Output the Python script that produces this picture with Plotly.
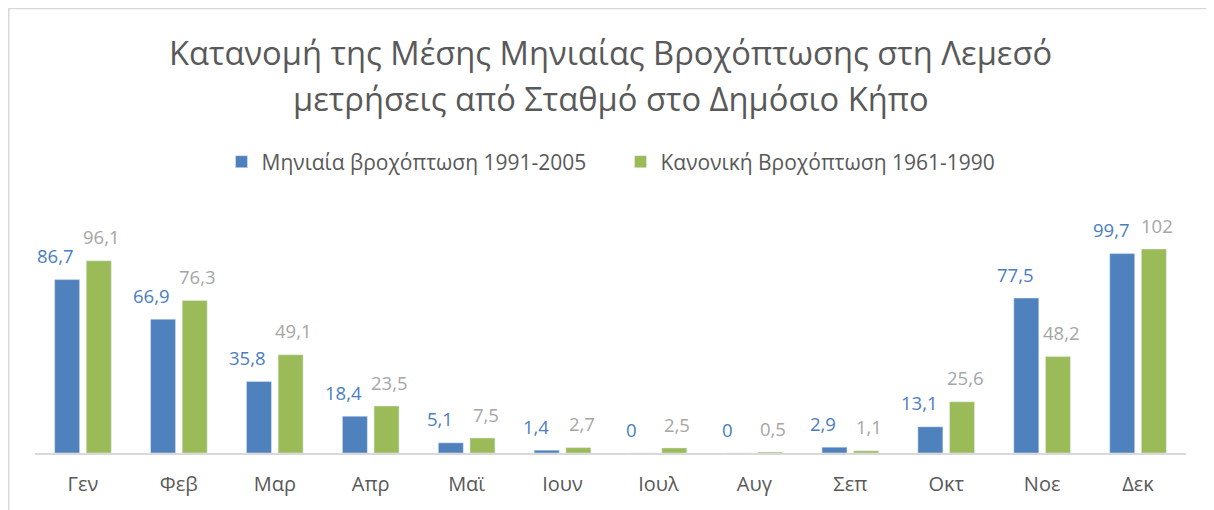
import plotly.graph_objects as go

months = ["Γεν", "Φεβ", "Μαρ", "Απρ", "Μαϊ", "Ιουν", "Ιουλ", "Αυγ", "Σεπ", "Οκτ", "Νοε", "Δεκ"]
rain_1991_2005 = [86.7, 66.9, 35.8, 18.4, 5.1, 1.4, 0, 0, 2.9, 13.1, 77.5, 99.7]
rain_1961_1990 = [96.1, 76.3, 49.1, 23.5, 7.5, 2.7, 2.5, 0.5, 1.1, 25.6, 48.2, 102]
series_names = ["Μηνιαία βροχόπτωση 1991-2005", "Κανονική Βροχόπτωση 1961-1990"]
title_lines = ["Κατανομή της Μέσης Μηνιαίας Βροχόπτωσης στη Λεμεσό",
               "μετρήσεις από Σταθμό στο Δημόσιο Κήπο"]

FONT = "'Open Sans', sans-serif"
BLUE = "#4F81BD"
GREEN = "#9BBB59"
BLUE_LBL = "#4A7EC1"
GRAY_LBL = "#A6A6A6"
TXT = "#595959"


def fmt(v):
    return f"{v:g}".replace(".", ",")


fig = go.Figure()
fig.add_trace(go.Bar(x=months, y=rain_1991_2005, name=series_names[0], marker_color=BLUE))
fig.add_trace(go.Bar(x=months, y=rain_1961_1990, name=series_names[1], marker_color=GREEN))

annotations = []
for m, v in zip(months, rain_1991_2005):
    annotations.append(dict(x=m, y=v, xref="x", yref="y", text=fmt(v), showarrow=False,
                            xshift=-27, yshift=24, yanchor="middle",
                            font=dict(family=FONT, size=18.5, color=BLUE_LBL)))
for m, v in zip(months, rain_1961_1990):
    annotations.append(dict(x=m, y=v, xref="x", yref="y", text=fmt(v), showarrow=False,
                            xshift=19, yshift=24, yanchor="middle",
                            font=dict(family=FONT, size=18.5, color=GRAY_LBL)))
annotations.append(dict(x=0.5, y=1.67, xref="paper", yref="paper", text=title_lines[0],
                        showarrow=False, yanchor="middle", xanchor="center",
                        font=dict(family=FONT, size=32.7, color=TXT)))
annotations.append(dict(x=0.5, y=1.475, xref="paper", yref="paper", text=title_lines[1],
                        showarrow=False, yanchor="middle", xanchor="center",
                        font=dict(family=FONT, size=32.7, color=TXT)))

fig.update_layout(
    width=1206, height=502,
    margin=dict(l=27, r=28, t=205, b=57),
    paper_bgcolor="white", plot_bgcolor="white",
    barmode="group", bargap=0.34, bargroupgap=0.21,
    showlegend=True,
    legend=dict(orientation="h", x=0.5087, xanchor="center", y=1.2125, yanchor="middle",
                font=dict(family=FONT, size=21, color=TXT), itemwidth=30,
                entrywidth=354, entrywidthmode="pixels",
                traceorder="normal"),
    annotations=annotations,
    shapes=[dict(type="rect", xref="paper", yref="paper", x0=-0.0228, x1=1.06, y0=-0.35, y1=1.852,
                 line=dict(color="#D9D9D9", width=1.5), fillcolor="rgba(0,0,0,0)", layer="below")],
    font=dict(family=FONT, color=TXT),
)
fig.update_xaxes(showline=True, linecolor="#D9D9D9", linewidth=1.5, ticks="outside", ticklen=12,
                 tickcolor="rgba(0,0,0,0)", tickfont=dict(family=FONT, size=20, color=TXT),
                 showgrid=False, fixedrange=True)
fig.update_yaxes(range=[0, 120], visible=False, showgrid=False, zeroline=False, fixedrange=True)

fig.write_html("out.html")
